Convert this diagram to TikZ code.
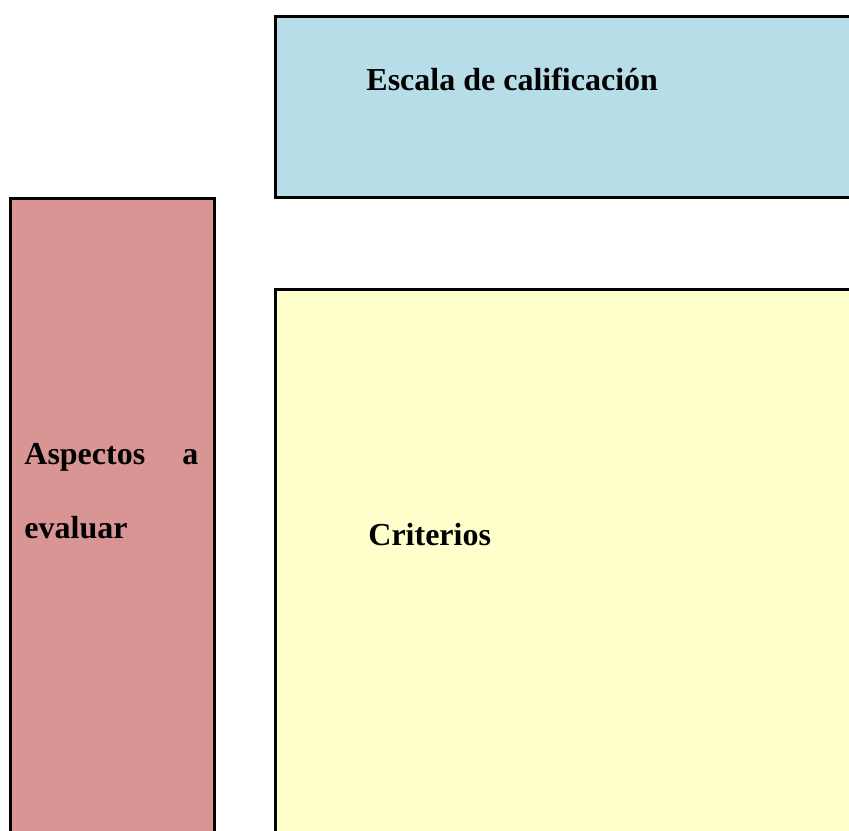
\documentclass[tikz,border=0pt]{standalone}
\usepackage{fontspec}
\setmainfont{Liberation Serif}
\usetikzlibrary{positioning}
\definecolor{escalablue}{RGB}{183,221,232}
\definecolor{aspectred}{RGB}{217,149,148}
\definecolor{crityellow}{RGB}{255,255,204}

\begin{document}
\begin{tikzpicture}
[x=1pt, y=-1pt, line width=1.4pt,
box/.style={rectangle, draw=black, inner sep=0pt, anchor=north west},
label/.style={inner sep=0pt, anchor=base west, font=\fontsize{16}{37}\selectfont\bfseries}]

\useasboundingbox (0,0) rectangle (424.5,415);
\clip (0,0) rectangle (424.5,415);

\node[box, fill=escalablue, minimum width=293pt, minimum height=90.5pt] (escala) at (137,7.5) {};
\node[box, fill=aspectred, minimum width=102pt, minimum height=330pt] (aspectos) at (4.5,98.5) {};
\node[box, fill=crityellow, minimum width=293pt, minimum height=290pt] (criterios) at (137,144) {};

\node[label] (escalatxt) at (182.5,45) {Escala de calificación};
\node[label, text width=87pt, align=justify] (aspectostxt) at (11.5,232) {Aspectos a evaluar};
\node[label] (criteriostxt) at (183.5,272.5) {Criterios};
\end{tikzpicture}
\end{document}
